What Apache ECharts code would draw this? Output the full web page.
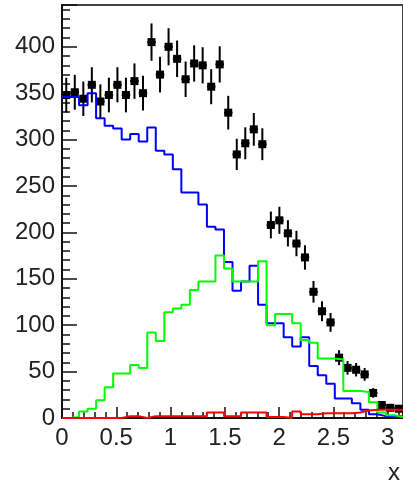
<!DOCTYPE html>
<html>
<head>
<meta charset="utf-8">
<script src="https://cdn.jsdelivr.net/npm/echarts@6/dist/echarts.min.js"></script>
<style>
  html, body { margin: 0; padding: 0; background: #fff; }
  #chart { width: 403px; height: 485px; }
</style>
</head>
<body>
<div id="chart"></div>
<script>
// Histogram range: 40 equal bins over [0, pi]
const xLow = 0;
const xHigh = Math.PI;
const nBins = 40;

// Observed counts per bin (drawn as points with Poisson error bars)
const dataCounts = [348, 351, 344, 359, 341, 348, 359, 348, 363, 350,
                    405, 370, 400, 387, 365, 382, 380, 357, 381, 329,
                    284, 296, 311, 295, 208, 213, 199, 188, 173, 136,
                    115, 103, 65, 54, 52, 47, 27, 14, 11, 10];

// Component histograms
const blueHist  = [346, 346, 337, 350, 323, 315, 312, 300, 306, 298,
                   313, 288, 284, 268, 243, 243, 230, 206, 203, 168,
                   137, 147, 164, 122, 102, 102, 87, 77, 87, 56,
                   46, 37, 21, 21, 16, 9, 4, 2, 2, 2];
const greenHist = [0, 1, 7, 10, 19, 33, 48, 48, 57, 54,
                   92, 83, 114, 118, 122, 138, 147, 147, 175, 161,
                   147, 147, 147, 169, 100, 112, 112, 102, 84, 81,
                   64, 64, 63, 29, 29, 28, 17, 6, 3, 1];
const redHist   = [0, 0, 0, 0, 0, 0, 0, 2, 2, 0,
                   2, 2, 2, 2, 2, 2, 2, 6, 6, 2,
                   2, 6, 6, 6, 1, 1, 0, 7, 4, 4,
                   5, 5, 5, 5, 6, 8, 9, 9, 9, 9];

// Axis tick labels
const xTickLabels = ['0', '0.5', '1', '1.5', '2', '2.5', '3'];
const yTickLabels = ['0', '50', '100', '150', '200', '250', '300', '350', '400'];
const xAxisTitle = 'x';

const binWidth = (xHigh - xLow) / nBins;

// Step outline: one point at each bin's low edge, closing at the upper edge
function stepData(values) {
  const pts = values.map((v, i) => [xLow + i * binWidth, v]);
  pts.push([xHigh, values[values.length - 1]]);
  return pts;
}

function histSeries(name, values, color) {
  return {
    name: name,
    type: 'line',
    step: 'end',
    data: stepData(values),
    showSymbol: false,
    symbol: 'none',
    clip: true,
    lineStyle: { color: color, width: 2 },
    itemStyle: { color: color },
    animation: false,
    z: 3
  };
}

const pointData = dataCounts.map((v, i) => [xLow + (i + 0.5) * binWidth, v, Math.sqrt(v)]);

const labelFont = { fontFamily: 'Liberation Sans, Arial, sans-serif', fontSize: 24, color: '#222' };

const chart = echarts.init(document.getElementById('chart'), null, { renderer: 'canvas' });

chart.setOption({
  animation: false,
  backgroundColor: '#fff',
  grid: {
    left: 62, top: 5, right: -3, bottom: 65,
    show: true, borderColor: '#444', borderWidth: 2, backgroundColor: 'transparent'
  },
  xAxis: {
    type: 'value',
    min: xLow, max: xHigh, interval: 0.5,
    axisLine: { show: true, onZero: false, lineStyle: { color: '#111', width: 2 } },
    axisTick: { show: true, inside: true, length: 11, lineStyle: { color: '#111', width: 1.5 } },
    minorTick: { show: true, splitNumber: 5, length: 6, lineStyle: { color: '#111', width: 1.5 } },
    splitLine: { show: false },
    axisLabel: Object.assign({
      margin: 8,
      showMaxLabel: false,
      formatter: function (v) {
        const k = Math.round(v / 0.5);
        return (Math.abs(v - k * 0.5) < 1e-6 && xTickLabels[k] !== undefined) ? xTickLabels[k] : '';
      }
    }, labelFont),
    name: xAxisTitle,
    nameLocation: 'end',
    nameGap: -3,
    nameTextStyle: Object.assign({ align: 'right', verticalAlign: 'top', padding: [43, 0, 0, 0] }, labelFont)
  },
  yAxis: {
    type: 'value',
    min: 0, max: 445, interval: 50,
    axisLine: { show: true, onZero: false, lineStyle: { color: '#111', width: 2 } },
    axisTick: { show: true, inside: true, length: 15, lineStyle: { color: '#111', width: 1.5 } },
    minorTick: { show: true, splitNumber: 5, length: 8, lineStyle: { color: '#111', width: 1.5 } },
    splitLine: { show: false },
    axisLabel: Object.assign({
      margin: 7,
      showMaxLabel: false,
      formatter: function (v) {
        const k = Math.round(v / 50);
        return (Math.abs(v - k * 50) < 1e-6 && yTickLabels[k] !== undefined) ? yTickLabels[k] : '';
      }
    }, labelFont)
  },
  series: [
    {
      name: 'data',
      type: 'custom',
      data: pointData,
      clip: true,
      z: 2,
      renderItem: function (params, api) {
        const x = api.value(0), y = api.value(1), e = api.value(2);
        const c = api.coord([x, y]);
        const hi = api.coord([x, y + e]);
        const lo = api.coord([x, y - e]);
        const l = api.coord([x - binWidth / 2, y]);
        const r = api.coord([x + binWidth / 2, y]);
        const s = 8;
        return {
          type: 'group',
          children: [
            { type: 'line', shape: { x1: c[0], y1: hi[1], x2: c[0], y2: lo[1] }, style: { stroke: '#000', lineWidth: 2 } },
            { type: 'line', shape: { x1: l[0], y1: c[1], x2: r[0], y2: c[1] }, style: { stroke: '#000', lineWidth: 2 } },
            { type: 'rect', shape: { x: c[0] - s / 2, y: c[1] - s / 2, width: s, height: s }, style: { fill: '#000' } }
          ]
        };
      }
    },
    histSeries('blue', blueHist, '#0000ff'),
    histSeries('green', greenHist, '#00ff00'),
    histSeries('red', redHist, '#ff0000')
  ]
});
</script>
</body>
</html>
